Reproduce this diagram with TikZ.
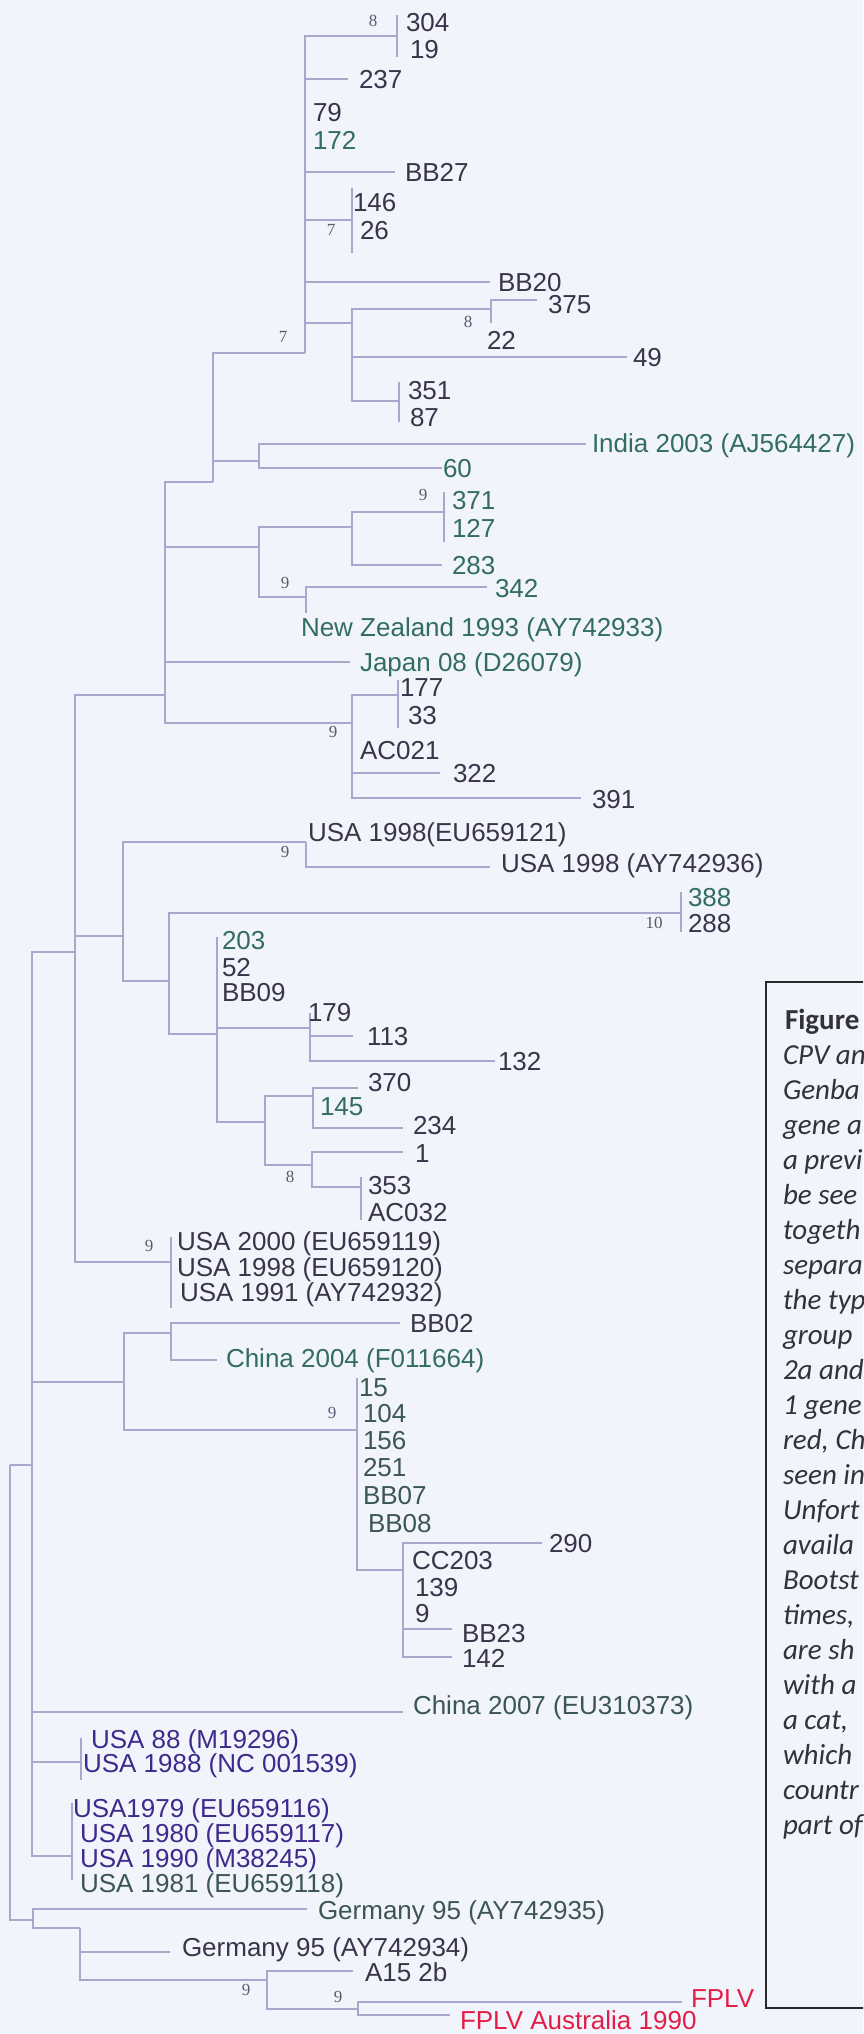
\documentclass[tikz,border=0pt]{standalone}
\usepackage{fontspec}
\setmainfont{Liberation Sans}
\newfontfamily\bootfont{Liberation Serif}
\newfontfamily\capfont{Carlito}
\usepackage{xcolor}
\usepackage{tikz}

\definecolor{dk}{RGB}{58,52,74}
\definecolor{tl}{RGB}{50,108,98}
\definecolor{gg}{RGB}{60,86,82}
\definecolor{bl}{RGB}{62,42,140}
\definecolor{rd}{RGB}{226,30,72}

\begin{document}
\begin{tikzpicture}[x=1pt,y=-1pt,every node/.style={inner sep=0pt, outer sep=0pt},
  lab/.style={anchor=west, text height=18.5pt, text depth=0pt, font=\fontsize{26}{26}\selectfont, text=dk},
  bsval/.style={font=\bootfont\fontsize{17}{17}\selectfont, text={rgb,255:red,95;green,85;blue,112}},
  branch/.style={draw={rgb,255:red,168;green,168;blue,205}, line width=1.3pt},
  legtext/.style={anchor=west, text height=19.5pt, text depth=0pt, font=\capfont\itshape\fontsize{29}{29}\selectfont, text={rgb,255:red,50;green,50;blue,56}}]
\clip (0,0) rectangle (863,2034);
\fill[fill={rgb,255:red,241;green,245;blue,251}] (0,0) rectangle (863,2034);
\useasboundingbox (0,0) rectangle (863,2034);

% internal nodes
\coordinate (root) at (10,1465);
\coordinate (n0) at (32,1465);
\coordinate (n1) at (75,952);
\coordinate (nD) at (165,695);
\coordinate (nC) at (213,482);
\coordinate (nA) at (305,353);
\coordinate (c304) at (397,36);
\coordinate (c146) at (352,220);
\coordinate (nB) at (352,323);
\coordinate (c375) at (491,309);
\coordinate (c351) at (399,401);
\coordinate (cIN) at (259,461);
\coordinate (nE) at (259,547);
\coordinate (nG) at (352,527);
\coordinate (c371) at (444,512);
\coordinate (cNZ) at (306,597);
\coordinate (nF) at (352,723);
\coordinate (c177) at (398,695);
\coordinate (nI) at (123,936);
\coordinate (cUS) at (306,842);
\coordinate (nJ) at (169,981);
\coordinate (c388) at (681,913);
\coordinate (nK) at (217,1034);
\coordinate (nL) at (310,1028);
\coordinate (nM) at (265,1122);
\coordinate (nP) at (313,1096);
\coordinate (nQ) at (312,1165);
\coordinate (c353) at (361,1187);
\coordinate (c2000) at (171,1262);
\coordinate (nS) at (124,1382);
\coordinate (nT) at (171,1333);
\coordinate (nU) at (357,1430);
\coordinate (nV) at (403,1570);
\coordinate (c88) at (81,1762);
\coordinate (c79) at (72,1856);
\coordinate (nW) at (33,1920);
\coordinate (nX) at (80,1928);
\coordinate (nY) at (267,1980);
\coordinate (nZ) at (358,2009);

% branch tips
\coordinate (t237) at (348,79);
\coordinate (tBB27) at (395,172);
\coordinate (tBB20) at (490,282);
\coordinate (t375) at (537,300);
\coordinate (t49) at (627,357);
\coordinate (tIndia) at (586,444);
\coordinate (t60) at (442,468);
\coordinate (t283) at (442,565);
\coordinate (t342) at (487,587);
\coordinate (tJapan) at (350,662);
\coordinate (t322) at (440,773);
\coordinate (t391) at (581,798);
\coordinate (tAY36) at (490,867);
\coordinate (t113) at (353,1036);
\coordinate (t132) at (495,1061);
\coordinate (t370) at (358,1088);
\coordinate (t234) at (403,1128);
\coordinate (t1) at (403,1152);
\coordinate (tBB02) at (400,1323);
\coordinate (tCh04) at (217,1360);
\coordinate (t290) at (542,1543);
\coordinate (tBB23) at (452,1629);
\coordinate (t142) at (452,1657);
\coordinate (tCh07) at (403,1712);
\coordinate (tGe35) at (307,1909);
\coordinate (tGe34) at (170,1952);
\coordinate (tA15) at (353,1971);
\coordinate (tFPLV) at (682,2002);
\coordinate (tFPLVa) at (450,2015);

% branches
\draw[branch] (root) |- (n0);
\draw[branch] (root) |- (nW);
\draw[branch] (n0) |- (n1);
\draw[branch] (n0) |- (nS);
\draw[branch] (n0) |- (tCh07);
\draw[branch] (n0) |- (c88);
\draw[branch] (n0) |- (c79);
\draw[branch] (n1) |- (nD);
\draw[branch] (n1) |- (nI);
\draw[branch] (n1) |- (c2000);
\draw[branch] (nD) |- (nC);
\draw[branch] (nD) |- (nE);
\draw[branch] (nD) |- (tJapan);
\draw[branch] (nD) |- (nF);
\draw[branch] (nC) |- (nA);
\draw[branch] (nC) |- (cIN);
\draw[branch] (nA) |- (c304);
\draw[branch] (nA) |- (t237);
\draw[branch] (nA) |- (tBB27);
\draw[branch] (nA) |- (c146);
\draw[branch] (nA) |- (tBB20);
\draw[branch] (nA) |- (nB);
\draw[branch] (nB) |- (c375);
\draw[branch] (nB) |- (t49);
\draw[branch] (nB) |- (c351);
\draw[branch] (c375) |- (t375);
\draw[branch] (c375) -- ([yshift=-14pt]c375);
\draw[branch] (cIN) |- (tIndia);
\draw[branch] (cIN) |- (t60);
\draw[branch] (nE) |- (nG);
\draw[branch] (nE) |- (cNZ);
\draw[branch] (nG) |- (c371);
\draw[branch] (nG) |- (t283);
\draw[branch] (cNZ) |- (t342);
\draw[branch] (cNZ) -- ([yshift=-16pt]cNZ);
\draw[branch] (nF) |- (c177);
\draw[branch] (nF) |- (t322);
\draw[branch] (nF) |- (t391);
\draw[branch] (nI) |- (cUS);
\draw[branch] (nI) |- (nJ);
\draw[branch] (cUS) |- (tAY36);
\draw[branch] (nJ) |- (c388);
\draw[branch] (nJ) |- (nK);
\draw[branch] (nK) |- (nL);
\draw[branch] (nK) |- (nM);
\draw[branch] (nK) -- ([yshift=97pt]nK);
\draw[branch] (nL) |- (t113);
\draw[branch] (nL) |- (t132);
\draw[branch] (nL) -- ([yshift=15pt]nL);
\draw[branch] (nM) |- (nP);
\draw[branch] (nM) |- (nQ);
\draw[branch] (nP) |- (t370);
\draw[branch] (nP) |- (t234);
\draw[branch] (nQ) |- (t1);
\draw[branch] (nQ) |- (c353);
\draw[branch] (nS) |- (nT);
\draw[branch] (nS) |- (nU);
\draw[branch] (nT) |- (tBB02);
\draw[branch] (nT) |- (tCh04);
\draw[branch] (nU) |- (nV);
\draw[branch] (nU) -- ([yshift=52pt]nU);
\draw[branch] (nV) |- (t290);
\draw[branch] (nV) |- (tBB23);
\draw[branch] (nV) |- (t142);
\draw[branch] (nW) |- (tGe35);
\draw[branch] (nW) |- (nX);
\draw[branch] (nX) |- (tGe34);
\draw[branch] (nX) |- (nY);
\draw[branch] (nY) |- (tA15);
\draw[branch] (nY) |- (nZ);
\draw[branch] (nZ) |- (tFPLV);
\draw[branch] (nZ) |- (tFPLVa);
% bars of unresolved groups
\draw[branch] ([yshift=21pt]c304) -- ([yshift=-21pt]c304);
\draw[branch] ([yshift=32pt]c146) -- ([yshift=-33pt]c146);
\draw[branch] ([yshift=19pt]c351) -- ([yshift=-21pt]c351);
\draw[branch] ([yshift=20pt]c371) -- ([yshift=-30pt]c371);
\draw[branch] ([yshift=15pt]c177) -- ([yshift=-33pt]c177);
\draw[branch] ([yshift=21pt]c388) -- ([yshift=-19pt]c388);
\draw[branch] ([yshift=10pt]c353) -- ([yshift=-33pt]c353);
\draw[branch] ([yshift=25pt]c2000) -- ([yshift=-46pt]c2000);
\draw[branch] ([yshift=24pt]c88) -- ([yshift=-18pt]c88);
\draw[branch] ([yshift=53pt]c79) -- ([yshift=-24pt]c79);

% taxa
\node[lab] (l304) at (406,22) {304};
\node[lab] (l19) at (410,49) {19};
\node[lab] (l237) at (359,79) {237};
\node[lab] (l79) at (313,112) {79};
\node[lab,text=tl] (l172) at (313,140) {172};
\node[lab] (lBB27) at (405,172) {BB27};
\node[lab] (l146) at (353,202) {146};
\node[lab] (l26) at (360,230) {26};
\node[lab] (lBB20) at (498,282) {BB20};
\node[lab] (l375) at (548,304) {375};
\node[lab] (l22) at (487,340) {22};
\node[lab] (l49) at (633,357) {49};
\node[lab] (l351) at (408,390) {351};
\node[lab] (l87) at (410,417) {87};
\node[lab,text=tl] (lIndia) at (592,443) {India 2003 (AJ564427)};
\node[lab,text=tl] (l60) at (443,468) {60};
\node[lab,text=tl] (l371) at (452,500) {371};
\node[lab,text=tl] (l127) at (452,528) {127};
\node[lab,text=tl] (l283) at (452,565) {283};
\node[lab,text=tl] (l342) at (495,588) {342};
\node[lab,text=tl] (lNZ) at (301,627) {New Zealand 1993 (AY742933)};
\node[lab,text=tl] (lJapan) at (360,662) {Japan 08 (D26079)};
\node[lab] (l177) at (400,687) {177};
\node[lab] (l33) at (408,715) {33};
\node[lab] (lAC021) at (360,750) {AC021};
\node[lab] (l322) at (453,773) {322};
\node[lab] (l391) at (592,799) {391};
\node[lab] (lEU21) at (308,832) {USA 1998(EU659121)};
\node[lab] (lAY36) at (501,863) {USA 1998 (AY742936)};
\node[lab,text=tl] (l388) at (688,897) {388};
\node[lab] (l288) at (688,923) {288};
\node[lab,text=tl] (l203) at (222,940) {203};
\node[lab] (l52) at (222,967) {52};
\node[lab] (lBB09) at (222,992) {BB09};
\node[lab] (l179) at (308,1012) {179};
\node[lab] (l113) at (367,1036) {113};
\node[lab] (l132) at (498,1061) {132};
\node[lab] (l370) at (368,1082) {370};
\node[lab,text=tl] (l145) at (320,1106) {145};
\node[lab] (l234) at (413,1125) {234};
\node[lab] (l1) at (415,1153) {1};
\node[lab] (l353) at (368,1185) {353};
\node[lab] (lAC032) at (368,1212) {AC032};
\node[lab] (lEU19) at (177,1241) {USA 2000 (EU659119)};
\node[lab] (lEU20) at (177,1267) {USA 1998 (EU659120)};
\node[lab] (lAY32) at (180,1292) {USA 1991 (AY742932)};
\node[lab] (lBB02) at (410,1323) {BB02};
\node[lab,text=tl] (lCh04) at (226,1358) {China 2004 (F011664)};
\node[lab,text=gg] (l15) at (359,1387) {15};
\node[lab,text=gg] (l104) at (363,1413) {104};
\node[lab,text=gg] (l156) at (363,1440) {156};
\node[lab,text=gg] (l251) at (363,1467) {251};
\node[lab,text=gg] (lBB07) at (363,1495) {BB07};
\node[lab,text=gg] (lBB08) at (368,1523) {BB08};
\node[lab] (l290) at (549,1543) {290};
\node[lab] (lCC203) at (412,1560) {CC203};
\node[lab] (l139) at (415,1587) {139};
\node[lab] (l9) at (415,1613) {9};
\node[lab] (lBB23) at (462,1633) {BB23};
\node[lab] (l142) at (462,1658) {142};
\node[lab,text=gg] (lCh07) at (413,1705) {China 2007 (EU310373)};
\node[lab,text=bl] (lM96) at (91,1739) {USA 88 (M19296)};
\node[lab,text=bl] (lNC) at (83,1763) {USA 1988 (NC 001539)};
\node[lab,text=bl] (lEU16) at (73,1808) {USA1979 (EU659116)};
\node[lab,text=bl] (lEU17) at (80,1833) {USA 1980 (EU659117)};
\node[lab,text=bl] (lM45) at (80,1858) {USA 1990 (M38245)};
\node[lab,text=gg] (lEU18) at (80,1883) {USA 1981 (EU659118)};
\node[lab,text=gg] (lGe35) at (318,1910) {Germany 95 (AY742935)};
\node[lab] (lGe34) at (182,1947) {Germany 95 (AY742934)};
\node[lab] (lA15) at (365,1972) {A15 2b};
\node[lab,text=rd] (lFPLV) at (691,1998) {FPLV};
\node[lab,text=rd] (lFPLVa) at (460,2020) {FPLV Australia 1990};

% bootstrap values
\node[bsval] (s304) at (373,21) {8};
\node[bsval] (s146) at (331,230) {7};
\node[bsval] (s375) at (468,322) {8};
\node[bsval] (sA) at (283,337) {7};
\node[bsval] (s371) at (423,495) {9};
\node[bsval] (sNZ) at (285,583) {9};
\node[bsval] (sF) at (333,732) {9};
\node[bsval] (sUS) at (285,852) {9};
\node[bsval] (s388) at (654,923) {10};
\node[bsval] (sQ) at (290,1177) {8};
\node[bsval] (s2000) at (149,1246) {9};
\node[bsval] (sU) at (332,1413) {9};
\node[bsval] (sY) at (246,1990) {9};
\node[bsval] (sZ) at (338,1997) {9};

% legend box
\draw[line width=1.6pt, draw={rgb,255:red,40;green,40;blue,40}] (900,982) -- (766,982) -- (766,2008) -- (900,2008);
\node[legtext, font=\capfont\bfseries\fontsize{29}{29}\selectfont] (leg0) at (785,1020) {Figure};
\node[legtext] (leg1) at (783,1055) {CPV an};
\node[legtext] (leg2) at (783,1090) {Genba};
\node[legtext] (leg3) at (783,1125) {gene a};
\node[legtext] (leg4) at (783,1160) {a previ};
\node[legtext] (leg5) at (783,1195) {be see};
\node[legtext] (leg6) at (783,1230) {togeth};
\node[legtext] (leg7) at (783,1265) {separa};
\node[legtext] (leg8) at (783,1300) {the typ};
\node[legtext] (leg9) at (783,1335) {group};
\node[legtext] (leg10) at (783,1370) {2a and};
\node[legtext] (leg11) at (783,1405) {1 gene};
\node[legtext] (leg12) at (783,1440) {red, Ch};
\node[legtext] (leg13) at (783,1475) {seen in};
\node[legtext] (leg14) at (783,1510) {Unfort};
\node[legtext] (leg15) at (783,1545) {availa};
\node[legtext] (leg16) at (783,1580) {Bootst};
\node[legtext] (leg17) at (783,1615) {times,};
\node[legtext] (leg18) at (783,1650) {are sh};
\node[legtext] (leg19) at (783,1685) {with a};
\node[legtext] (leg20) at (783,1720) {a cat,};
\node[legtext] (leg21) at (783,1755) {which};
\node[legtext] (leg22) at (783,1790) {countr};
\node[legtext] (leg23) at (783,1825) {part of};
\end{tikzpicture}
\end{document}
